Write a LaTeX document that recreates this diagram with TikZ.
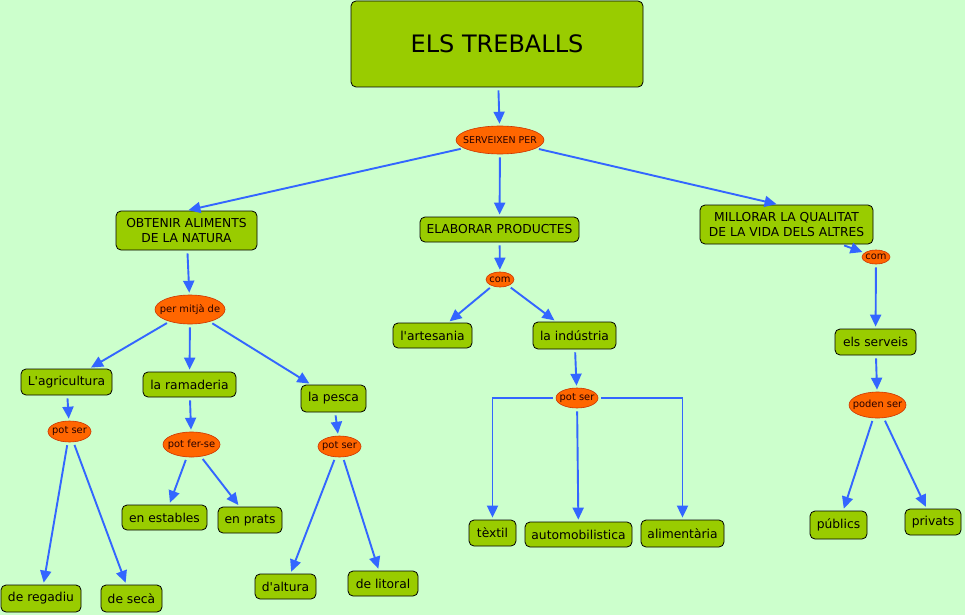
\documentclass[tikz,border=0pt]{standalone}
\usepackage{fontspec}
\setmainfont{DejaVu Sans}[Ligatures=TeXOff]
\usetikzlibrary{arrows.meta,shapes.geometric}
\definecolor{bg}{HTML}{CCFFCC}
\definecolor{boxfill}{HTML}{99CC00}
\definecolor{ellfill}{HTML}{FF6600}
\definecolor{ellline}{HTML}{CC3300}
\definecolor{arr}{HTML}{3366FF}
\newcommand\zw[1]{\makebox[0pt]{#1}}
\tikzset{
  box/.style={draw=black, line width=0.8pt, fill=boxfill, rounded corners=5pt, inner sep=0pt, align=center, font=\fontsize{12.3}{14.5}\selectfont},
  ell/.style={ellipse, draw=ellline, line width=0.6pt, fill=ellfill, inner sep=0pt, text=black!85!red, font=\fontsize{9.9}{12}\selectfont},
  conn/.style={draw=arr, line width=1.9pt, -{Triangle[length=12pt,width=11pt]}, shorten <=3pt, shorten >=2pt},
}
\begin{document}
\begin{tikzpicture}[x=1pt,y=-1pt]
\useasboundingbox[fill=bg] (0,0) rectangle (965,615);
% nodes
\node[box, minimum width=292pt, minimum height=86pt, font=\fontsize{24}{28}\selectfont] (els) at (497,44) {ELS TREBALLS};
\node[ell, minimum width=88pt, minimum height=28pt, font=\fontsize{9.4}{11}\selectfont] (serv) at (500,140) {\zw{SERVEIXEN PER}};
\node[box, minimum width=141pt, minimum height=39pt] (obt) at (186.5,230.5) {OBTENIR ALIMENTS\\DE LA NATURA};
\node[box, minimum width=159pt, minimum height=25pt] (elab) at (499.5,229.5) {ELABORAR PRODUCTES};
\node[box, minimum width=173pt, minimum height=39pt] (mill) at (786.5,224.5) {MILLORAR LA QUALITAT\\DE LA VIDA DELS ALTRES};
\node[ell, minimum width=28pt, minimum height=14pt] (com1) at (876,257) {\zw{com}};
\node[ell, minimum width=28pt, minimum height=15pt] (com2) at (500,279.5) {\zw{com}};
\node[box, minimum width=79pt, minimum height=25pt] (art) at (432.5,335.5) {l'artesania};
\node[box, minimum width=83pt, minimum height=27pt] (ind) at (574.5,335.5) {la indústria};
\node[ell, minimum width=42pt, minimum height=20pt] (ps4) at (577,398) {\zw{pot ser}};
\node[box, minimum width=47pt, minimum height=26pt] (tex) at (492.5,533) {tèxtil};
\node[box, minimum width=107pt, minimum height=25pt] (auto) at (578.5,534.5) {automobilistica};
\node[box, minimum width=83pt, minimum height=27pt] (alim) at (682.5,533.5) {alimentària};
\node[ell, minimum width=70pt, minimum height=29pt] (per) at (190,309.5) {\zw{per mitjà de}};
\node[box, minimum width=91pt, minimum height=26pt] (agri) at (66.5,382) {L'agricultura};
\node[box, minimum width=93pt, minimum height=25pt] (ram) at (189.5,384.5) {la ramaderia};
\node[box, minimum width=65pt, minimum height=27pt] (pes) at (333.5,398.5) {la pesca};
\node[ell, minimum width=43pt, minimum height=21pt] (ps1) at (69.5,431.5) {\zw{pot ser}};
\node[ell, minimum width=57pt, minimum height=25pt] (pfs) at (191.5,444.5) {\zw{pot fer-se}};
\node[ell, minimum width=43pt, minimum height=21pt] (ps3) at (339.5,446.5) {\zw{pot ser}};
\node[box, minimum width=85pt, minimum height=25pt] (est) at (164.5,517.5) {en estables};
\node[box, minimum width=64pt, minimum height=26pt] (pra) at (250,520) {en prats};
\node[box, minimum width=80pt, minimum height=27pt] (reg) at (41,598.5) {de regadiu};
\node[box, minimum width=61pt, minimum height=27pt] (sec) at (131.5,598.5) {de secà};
\node[box, minimum width=61pt, minimum height=25pt] (alt) at (285.5,586.5) {d'altura};
\node[box, minimum width=70pt, minimum height=25pt] (lit) at (383,583.5) {de litoral};
\node[box, minimum width=81pt, minimum height=26pt] (srv) at (875.5,342) {els serveis};
\node[ell, minimum width=57pt, minimum height=26pt] (pod) at (877.5,405) {\zw{poden ser}};
\node[box, minimum width=57pt, minimum height=28pt] (pub) at (838.5,525) {públics};
\node[box, minimum width=56pt, minimum height=26pt] (pri) at (933,522) {privats};
% connectors
\draw[conn] (els) -- (serv);
\draw[conn] (serv) -- (obt.north);
\draw[conn] (serv) -- (elab);
\draw[conn] (serv) -- ([xshift=-8pt]mill.north);
\draw[conn] (mill) -- (com1);
\draw[conn] (com1) -- (srv);
\draw[conn] (srv) -- (pod);
\draw[conn] (pod) -- (pub);
\draw[conn] (pod) -- (pri);
\draw[conn] (obt) -- (per);
\draw[conn] (per) -- (agri);
\draw[conn] (per) -- (ram);
\draw[conn] (per) -- (pes);
\draw[conn] (agri) -- (ps1);
\draw[conn] (ps1) -- (reg);
\draw[conn] (ps1) -- (sec);
\draw[conn] (ram) -- (pfs);
\draw[conn] (pfs) -- (est);
\draw[conn] (pfs) -- (pra);
\draw[conn] (pes) -- (ps3);
\draw[conn] (ps3) -- (alt);
\draw[conn] (ps3) -- (lit);
\draw[conn] (elab) -- (com2);
\draw[conn] (com2) -- (art);
\draw[conn] (com2) -- (ind);
\draw[conn] (ind) -- (ps4);
\draw[conn] (ps4.west) -| (tex.north);
\draw[conn] (ps4) -- (auto);
\draw[conn] (ps4.east) -| (alim.north);
\end{tikzpicture}
\end{document}
